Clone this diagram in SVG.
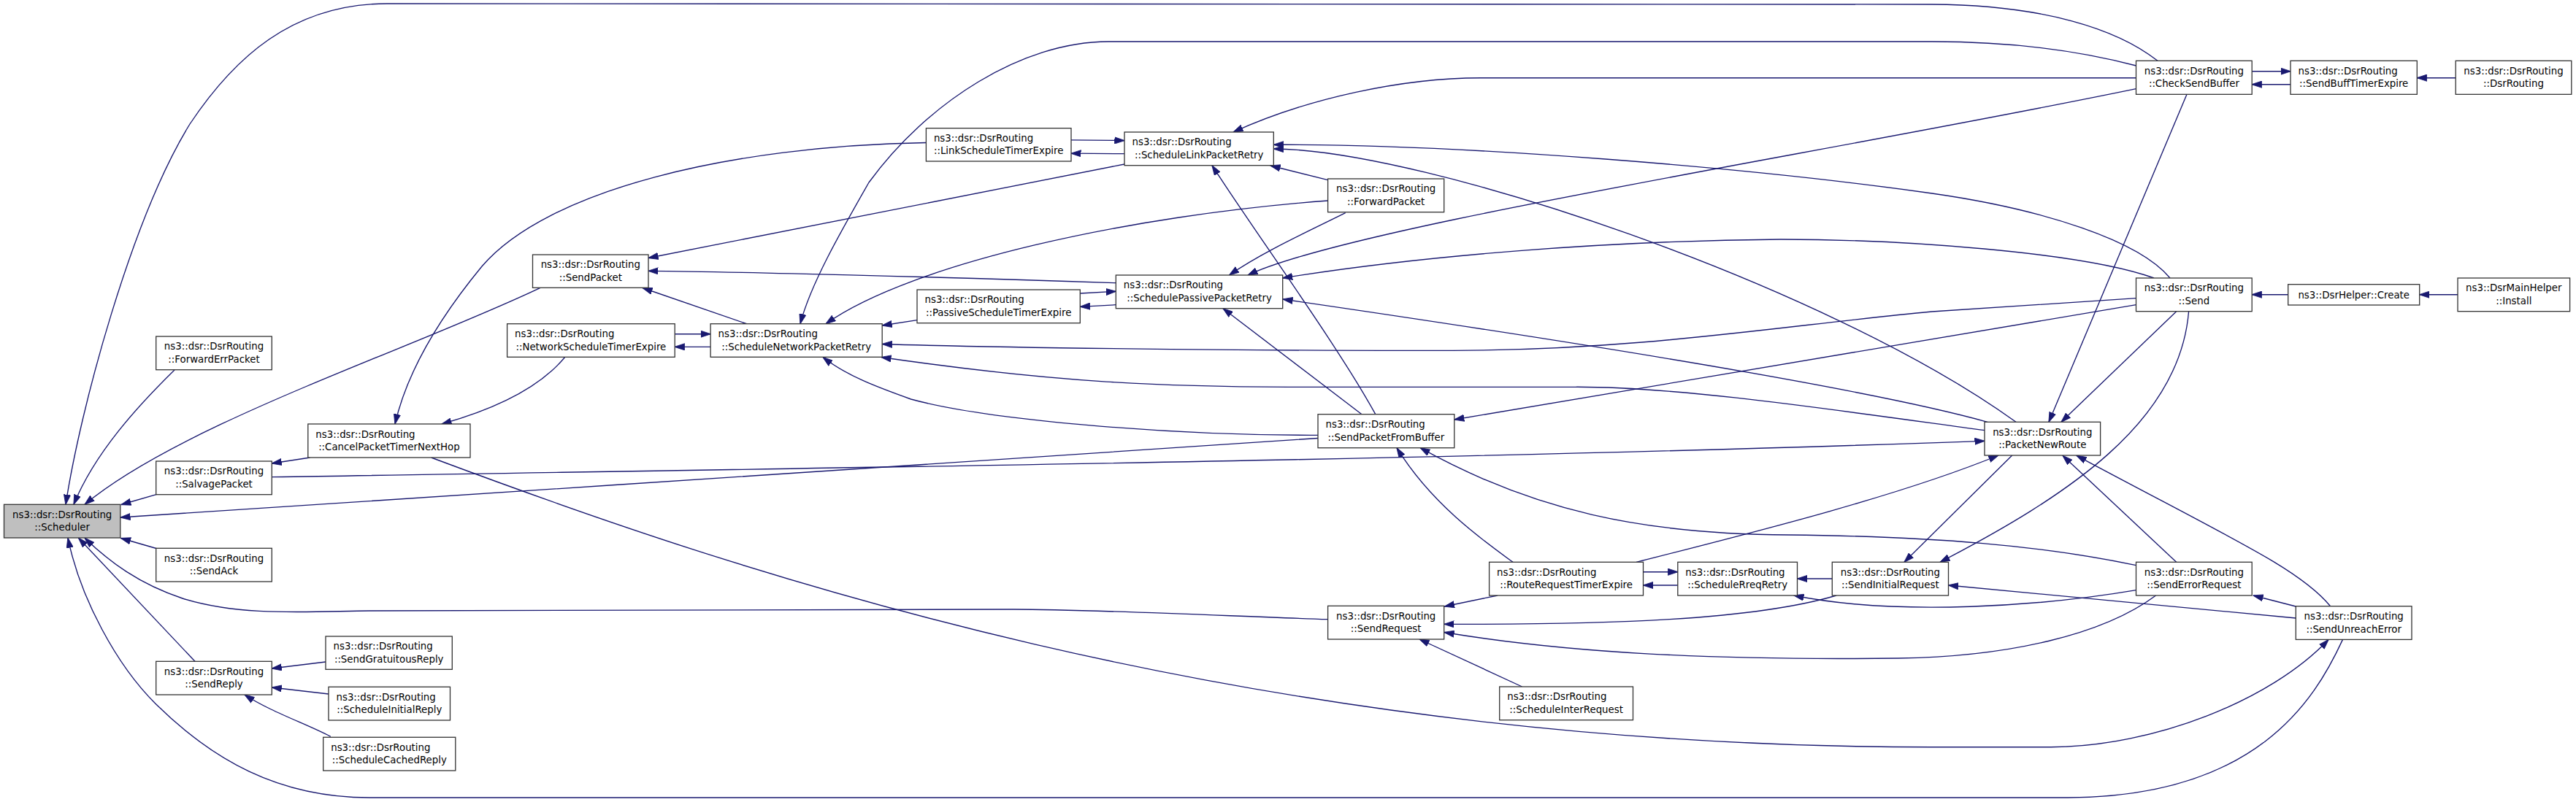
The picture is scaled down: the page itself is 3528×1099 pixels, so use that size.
<svg xmlns="http://www.w3.org/2000/svg" width="3528" height="1099" viewBox="0 0 3528 1099">
<defs>
<style>
.n rect{fill:#ffffff;stroke:#333333;stroke-width:1.3}
.n.focus rect{fill:#bfbfbf}
.n text{font-family:"DejaVu Sans","Liberation Sans",sans-serif;font-size:13.33px;fill:#000000}
.m{text-anchor:middle}
.s{text-anchor:start}
#edges path{fill:none;stroke:#191970;stroke-width:1.35}
#edges path.a{marker-end:url(#ah)}
</style>
<marker id="ah" viewBox="0 0 14 10" refX="13.5" refY="5" markerWidth="14" markerHeight="10" markerUnits="userSpaceOnUse" orient="auto">
<path d="M0,0.4 L14,5 L0,9.6 z" fill="#191970" stroke="#191970" stroke-width="0.8"/>
</marker>
</defs>
<rect x="0" y="0" width="3528" height="1099" fill="#ffffff"/>
<g id="edges">
<path class="a" d="M2955,83.3 C2900,40 2800,7 2646,6 L530,5 C400,5 320,80 260,170 C180,300 110,560 90,691.3"/>
<path class="a" d="M239,507 C190,555 130,620 101,691.3"/>
<path class="a" d="M740,394.3 C560,480 250,580 116,691.3"/>
<path class="a" d="M214,677.7 L166,691.5"/>
<path class="a" d="M1805,600.5 C1300,636 700,673 165,709"/>
<path class="a" d="M214,751.5 L165.5,737.5"/>
<path class="a" d="M267,906.3 L107.5,737.2"/>
<path class="a" d="M1818.6,848.7 C1700,845 1500,835 1388,835 L506,837 C420,838 330,845 250,820 C190,800 150,770 116,737.2"/>
<path class="a" d="M3208.5,876.4 C3170,960 3090,1092 2832,1093 L506,1093 C380,1093 290,1040 213.7,965 C160,912 110,820 93,737.2"/>
<path class="a" d="M424.6,627 L372.3,635"/>
<path class="a" d="M590.6,627 C1000,780 1700,1024 2646,1023.7 L2809,1023.7 C2950,1023 3110,960 3189,876.5"/>
<path class="a" d="M773.4,489.7 C740,530 680,560 605,581"/>
<path class="a" d="M1268.4,195.5 C1000,200 750,260 660,365 C590,450 555,520 541,581"/>
<path class="a" d="M1467,191.8 L1540,192.6"/>
<path class="a" d="M1540,210.7 L1467,210.2"/>
<path class="a" d="M1540,225 L888,353.5"/>
<path class="a" d="M1528.3,387.7 C1300,380 1000,372 888,371.3"/>
<path class="a" d="M1022.6,443.7 L880,394.5"/>
<path class="a" d="M924.2,457.7 L973.1,457.7"/>
<path class="a" d="M973.1,475.3 L924.2,475.3"/>
<path class="a" d="M2925.5,90 C2850,70 2760,57 2646,57 L1518,57 C1400,57 1270,140 1190,250 C1150,320 1110,390 1096,443.7"/>
<path class="a" d="M2925.5,106.7 L2028,106.7 C1920,106.7 1790,135 1689,181"/>
<path class="a" d="M2925.5,121.7 C2500,210 1850,310 1709,377"/>
<path class="a" d="M3084.2,97.7 L3137,97.7"/>
<path class="a" d="M3137,115.7 L3084.2,115.7"/>
<path class="a" d="M3363.2,106.7 L3310.3,106.7"/>
<path class="a" d="M2995,129.3 L2806,578.3"/>
<path class="a" d="M2980.7,426.7 L2823,578.3"/>
<path class="a" d="M2997.6,426.7 C2985,580 2830,680 2657,770.3"/>
<path class="a" d="M2755.7,624 L2608,770.3"/>
<path class="a" d="M2925.5,417.7 L1991.8,575"/>
<path class="a" d="M2925.5,408.7 L2646,427 C2450,445 2250,480 1990,480.3 C1700,481 1350,476 1208.2,471.5"/>
<path class="a" d="M2718,589.7 C2500,560 2300,530 2158,530.3 L1764,530.3 C1600,530 1450,525 1207,489.5"/>
<path class="a" d="M1805,596.3 C1600,597 1350,575 1247.6,547 C1200,530 1160,515 1127,489.5"/>
<path class="a" d="M1883.8,567.7 C1830,470 1720,320 1660,226.7"/>
<path class="a" d="M1865,567.7 L1675,422.7"/>
<path class="a" d="M2950,381 C2850,345 2600,328 2439,328 C2200,330 1950,350 1756.7,381"/>
<path class="a" d="M2722,578.3 C2550,530 2100,460 1757,410"/>
<path class="a" d="M2761,578.3 C2500,390 1950,205 1744.3,204"/>
<path class="a" d="M2972,381 C2930,330 2800,287 2646,265 C2400,230 2000,197 1744.3,198.3"/>
<path class="a" d="M1818.6,246.7 L1740,227"/>
<path class="a" d="M1818.6,275 C1550,295 1250,360 1131,443.7"/>
<path class="a" d="M1842.7,291.7 C1790,318 1730,345 1683.5,377"/>
<path class="a" d="M1479.3,402 L1528.3,399.3"/>
<path class="a" d="M1528.3,417.7 L1479.3,420.3"/>
<path class="a" d="M1256,438.7 L1208.2,446"/>
<path class="a" d="M2925.5,774.7 C2800,748 2650,735 2450,733 C2250,732 2100,700 1945,613.7"/>
<path class="a" d="M2072,770.3 C2030,740 1960,690 1913,613.7"/>
<path class="a" d="M2241,770.3 C2400,730 2600,680 2737,624"/>
<path class="a" d="M372.3,653.7 C1200,640 2000,630 2718,604.3"/>
<path class="a" d="M2980.7,770.3 L2825,624.3"/>
<path class="a" d="M3191.6,830.7 C3150,780 3060,740 2844,624.3"/>
<path class="a" d="M3144.3,831 L3086,816"/>
<path class="a" d="M3144.3,847 L2668.5,802"/>
<path class="a" d="M2925.5,808.7 C2800,830 2600,845 2457,816"/>
<path class="a" d="M2952.6,816 C2880,870 2750,900 2600,902 C2350,905 2150,895 1978,866.5"/>
<path class="a" d="M2515,816 C2400,850 2200,856 1978,855.3"/>
<path class="a" d="M2051,816 L1978.5,831"/>
<path class="a" d="M2084.6,941 L1944,876"/>
<path class="a" d="M2250.5,783.7 L2297.8,783.7"/>
<path class="a" d="M2297.8,802 L2250.5,802"/>
<path class="a" d="M2509.3,793 L2461.5,793"/>
<path class="a" d="M3133.7,403.7 L3084.2,403.7"/>
<path class="a" d="M3366,403.7 L3313.7,403.7"/>
<path class="a" d="M446,907 L372.3,916"/>
<path class="a" d="M450,951 L372.3,942"/>
<path class="a" d="M452.8,1009.3 C420,992 370,975 335,952"/>
</g>
<g id="n_sched" class="n focus"><rect x="5.5" y="691.3" width="159.3" height="45.7"/><text class="m" x="85.2" y="709.7">ns3::dsr::DsrRouting</text><text class="m" x="85.2" y="727.2">::Scheduler</text></g>
<g id="n_fwderr" class="n"><rect x="213.7" y="461" width="158.6" height="45.7"/><text class="m" x="293" y="479.4">ns3::dsr::DsrRouting</text><text class="m" x="293" y="496.9">::ForwardErrPacket</text></g>
<g id="n_salvage" class="n"><rect x="213.7" y="632" width="158.6" height="45.7"/><text class="m" x="293" y="650.4">ns3::dsr::DsrRouting</text><text class="m" x="293" y="667.9">::SalvagePacket</text></g>
<g id="n_sendack" class="n"><rect x="213.7" y="751.3" width="158.6" height="45.7"/><text class="m" x="293" y="769.7">ns3::dsr::DsrRouting</text><text class="m" x="293" y="787.2">::SendAck</text></g>
<g id="n_sendreply" class="n"><rect x="213.7" y="906.3" width="158.6" height="45.7"/><text class="m" x="293" y="924.7">ns3::dsr::DsrRouting</text><text class="m" x="293" y="942.2">::SendReply</text></g>
<g id="n_gratuitous" class="n"><rect x="446" y="872" width="173.3" height="45.3"/><text class="s" x="456.5" y="890.2">ns3::dsr::DsrRouting</text><text class="m" x="532.7" y="907.7">::SendGratuitousReply</text></g>
<g id="n_schedinitreply" class="n"><rect x="450" y="941.3" width="166.5" height="45.7"/><text class="s" x="460.5" y="959.7">ns3::dsr::DsrRouting</text><text class="m" x="533.3" y="977.2">::ScheduleInitialReply</text></g>
<g id="n_schedcached" class="n"><rect x="442.7" y="1010.3" width="181.1" height="45.7"/><text class="s" x="453.2" y="1028.7">ns3::dsr::DsrRouting</text><text class="m" x="533.3" y="1046.2">::ScheduleCachedReply</text></g>
<g id="n_cancel" class="n"><rect x="421.8" y="581" width="222.2" height="46"/><text class="s" x="432.3" y="599.5">ns3::dsr::DsrRouting</text><text class="m" x="532.9" y="617">::CancelPacketTimerNextHop</text></g>
<g id="n_sendpacket" class="n"><rect x="729.5" y="349" width="158.5" height="45.3"/><text class="m" x="808.8" y="367.2">ns3::dsr::DsrRouting</text><text class="m" x="808.8" y="384.7">::SendPacket</text></g>
<g id="n_netsched" class="n"><rect x="694.6" y="443.7" width="229.6" height="45.6"/><text class="s" x="705.1" y="462">ns3::dsr::DsrRouting</text><text class="m" x="809.4" y="479.5">::NetworkScheduleTimerExpire</text></g>
<g id="n_schednet" class="n"><rect x="973.1" y="443.7" width="235.1" height="45.6"/><text class="s" x="983.6" y="462">ns3::dsr::DsrRouting</text><text class="m" x="1090.7" y="479.5">::ScheduleNetworkPacketRetry</text></g>
<g id="n_linksched" class="n"><rect x="1268.4" y="175.7" width="198.6" height="45.3"/><text class="s" x="1278.9" y="193.9">ns3::dsr::DsrRouting</text><text class="m" x="1367.7" y="211.4">::LinkScheduleTimerExpire</text></g>
<g id="n_schedlink" class="n"><rect x="1540" y="181" width="204.3" height="45.7"/><text class="s" x="1550.5" y="199.4">ns3::dsr::DsrRouting</text><text class="m" x="1642.2" y="216.9">::ScheduleLinkPacketRetry</text></g>
<g id="n_passivesched" class="n"><rect x="1256" y="397" width="223.3" height="45.7"/><text class="s" x="1266.5" y="415.4">ns3::dsr::DsrRouting</text><text class="m" x="1367.7" y="432.9">::PassiveScheduleTimerExpire</text></g>
<g id="n_schedpassive" class="n"><rect x="1528.3" y="377" width="228.4" height="45.7"/><text class="s" x="1538.8" y="395.4">ns3::dsr::DsrRouting</text><text class="m" x="1642.5" y="412.9">::SchedulePassivePacketRetry</text></g>
<g id="n_fwdpacket" class="n"><rect x="1818.6" y="245" width="159.1" height="45.7"/><text class="m" x="1898.2" y="263.4">ns3::dsr::DsrRouting</text><text class="m" x="1898.2" y="280.9">::ForwardPacket</text></g>
<g id="n_sendfrombuf" class="n"><rect x="1805" y="567.7" width="186.8" height="46"/><text class="s" x="1815.5" y="586.2">ns3::dsr::DsrRouting</text><text class="m" x="1898.4" y="603.7">::SendPacketFromBuffer</text></g>
<g id="n_sendrequest" class="n"><rect x="1818.6" y="830.3" width="159.1" height="45.7"/><text class="m" x="1898.2" y="848.7">ns3::dsr::DsrRouting</text><text class="m" x="1898.2" y="866.2">::SendRequest</text></g>
<g id="n_rreqtimer" class="n"><rect x="2039.6" y="770.3" width="210.9" height="45.7"/><text class="s" x="2050.1" y="788.7">ns3::dsr::DsrRouting</text><text class="m" x="2145.1" y="806.2">::RouteRequestTimerExpire</text></g>
<g id="n_schedrreq" class="n"><rect x="2297.8" y="770.3" width="163.7" height="45.7"/><text class="s" x="2308.3" y="788.7">ns3::dsr::DsrRouting</text><text class="m" x="2379.7" y="806.2">::ScheduleRreqRetry</text></g>
<g id="n_sendinitreq" class="n"><rect x="2509.3" y="770.3" width="159.2" height="45.7"/><text class="m" x="2588.9" y="788.7">ns3::dsr::DsrRouting</text><text class="m" x="2588.9" y="806.2">::SendInitialRequest</text></g>
<g id="n_schedinter" class="n"><rect x="2053.7" y="941" width="182.8" height="45.7"/><text class="s" x="2064.2" y="959.4">ns3::dsr::DsrRouting</text><text class="m" x="2145.1" y="976.9">::ScheduleInterRequest</text></g>
<g id="n_checksend" class="n"><rect x="2925.5" y="83.3" width="158.7" height="46"/><text class="m" x="3004.9" y="101.8">ns3::dsr::DsrRouting</text><text class="m" x="3004.9" y="119.3">::CheckSendBuffer</text></g>
<g id="n_sendbufftimer" class="n"><rect x="3137" y="83.3" width="173.3" height="46"/><text class="s" x="3147.5" y="101.8">ns3::dsr::DsrRouting</text><text class="m" x="3223.7" y="119.3">::SendBuffTimerExpire</text></g>
<g id="n_dsrrouting" class="n"><rect x="3363.2" y="83.3" width="158.6" height="46"/><text class="m" x="3442.5" y="101.8">ns3::dsr::DsrRouting</text><text class="m" x="3442.5" y="119.3">::DsrRouting</text></g>
<g id="n_send" class="n"><rect x="2925.5" y="381" width="158.7" height="45.7"/><text class="m" x="3004.9" y="399.4">ns3::dsr::DsrRouting</text><text class="m" x="3004.9" y="416.9">::Send</text></g>
<g id="n_create" class="n"><rect x="3133.7" y="389.7" width="180" height="28.3"/><text class="m" x="3223.7" y="408.6">ns3::DsrHelper::Create</text></g>
<g id="n_install" class="n"><rect x="3366" y="381" width="153.6" height="45.7"/><text class="m" x="3442.8" y="399.4">ns3::DsrMainHelper</text><text class="m" x="3442.8" y="416.9">::Install</text></g>
<g id="n_packetnewroute" class="n"><rect x="2718" y="578.3" width="158.6" height="45.7"/><text class="m" x="2797.3" y="596.7">ns3::dsr::DsrRouting</text><text class="m" x="2797.3" y="614.2">::PacketNewRoute</text></g>
<g id="n_senderrreq" class="n"><rect x="2925.5" y="770.3" width="158.7" height="45.7"/><text class="m" x="3004.9" y="788.7">ns3::dsr::DsrRouting</text><text class="m" x="3004.9" y="806.2">::SendErrorRequest</text></g>
<g id="n_sendunreach" class="n"><rect x="3144.3" y="830.7" width="158.7" height="45.7"/><text class="m" x="3223.7" y="849.1">ns3::dsr::DsrRouting</text><text class="m" x="3223.7" y="866.6">::SendUnreachError</text></g>
</svg>
